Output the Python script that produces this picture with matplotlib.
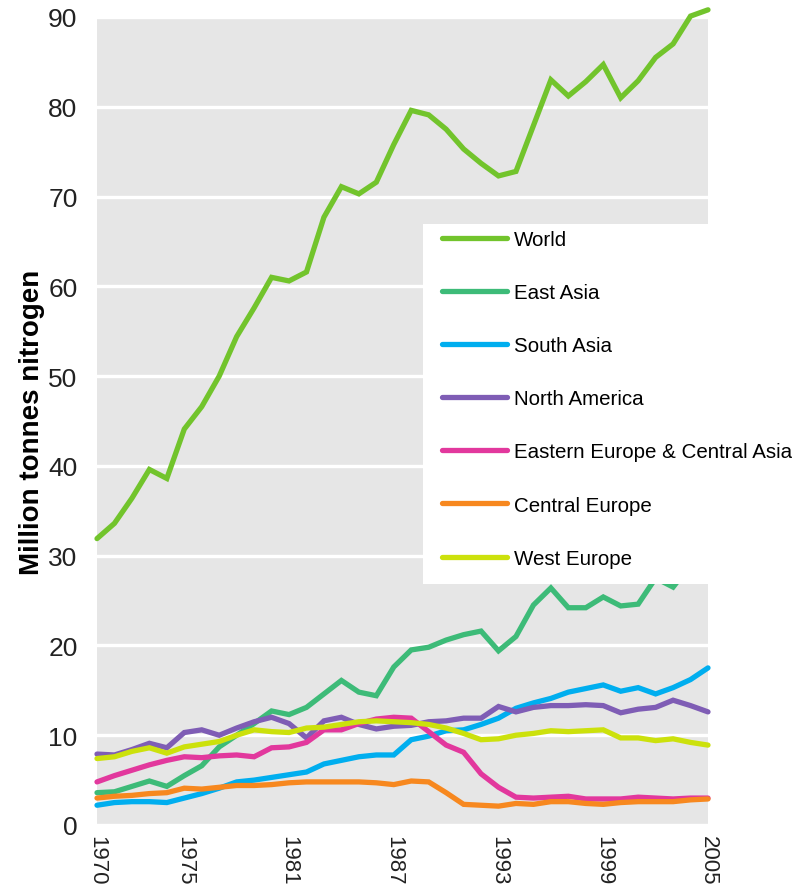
import matplotlib
matplotlib.use("Agg")
import matplotlib.pyplot as plt
from matplotlib.patches import Rectangle

years = list(range(1970, 2006))

world = [31.9, 33.6, 36.4, 39.6, 38.6, 44.1, 46.6, 50.0, 54.4, 57.6, 61.0, 60.6,
         61.6, 67.7, 71.1, 70.3, 71.6, 75.8, 79.6, 79.1, 77.5, 75.3, 73.7, 72.3,
         72.8, 77.9, 83.0, 81.2, 82.8, 84.7, 81.0, 82.9, 85.5, 87.0, 90.1, 90.8]
east_asia = [3.6, 3.7, 4.3, 4.9, 4.3, 5.5, 6.6, 8.7, 10.0, 11.3, 12.7, 12.3,
             13.1, 14.6, 16.1, 14.8, 14.4, 17.6, 19.5, 19.8, 20.6, 21.2, 21.6, 19.4,
             21.0, 24.5, 26.4, 24.2, 24.2, 25.4, 24.4, 24.6, 27.5, 26.5, 29.0, 30.5]
south_asia = [2.2, 2.5, 2.6, 2.6, 2.5, 3.0, 3.5, 4.1, 4.8, 5.0, 5.3, 5.6,
              5.9, 6.8, 7.2, 7.6, 7.8, 7.8, 9.5, 9.9, 10.5, 10.6, 11.2, 11.9,
              13.0, 13.6, 14.1, 14.8, 15.2, 15.6, 14.9, 15.3, 14.6, 15.3, 16.2, 17.5]
north_america = [7.9, 7.8, 8.4, 9.1, 8.6, 10.3, 10.6, 10.0, 10.8, 11.5, 12.0, 11.3,
                 9.7, 11.6, 12.0, 11.2, 10.7, 11.0, 11.1, 11.5, 11.6, 11.9, 11.9, 13.2,
                 12.6, 13.1, 13.3, 13.3, 13.4, 13.3, 12.5, 12.9, 13.1, 13.9, 13.3, 12.6]
east_europe_central_asia = [4.8, 5.5, 6.1, 6.7, 7.2, 7.6, 7.5, 7.7, 7.8, 7.6, 8.6, 8.7,
                            9.2, 10.6, 10.6, 11.3, 11.8, 12.0, 11.9, 10.4, 8.9, 8.1, 5.7, 4.2,
                            3.1, 3.0, 3.1, 3.2, 2.9, 2.9, 2.9, 3.1, 3.0, 2.9, 3.0, 3.0]
central_europe = [3.0, 3.2, 3.3, 3.5, 3.6, 4.1, 4.0, 4.2, 4.4, 4.4, 4.5, 4.7,
                  4.8, 4.8, 4.8, 4.8, 4.7, 4.5, 4.9, 4.8, 3.6, 2.3, 2.2, 2.1,
                  2.4, 2.3, 2.6, 2.6, 2.4, 2.3, 2.5, 2.6, 2.6, 2.6, 2.8, 2.9]
west_europe = [7.4, 7.6, 8.2, 8.6, 8.0, 8.7, 9.0, 9.3, 10.0, 10.6, 10.4, 10.3,
               10.8, 10.9, 11.2, 11.5, 11.6, 11.5, 11.4, 11.2, 10.8, 10.2, 9.5, 9.6,
               10.0, 10.2, 10.5, 10.4, 10.5, 10.6, 9.7, 9.7, 9.4, 9.6, 9.2, 8.9]

series_names = ["World", "East Asia", "South Asia", "North America",
                "Eastern Europe & Central Asia", "Central Europe", "West Europe"]
series_values = [world, east_asia, south_asia, north_america,
                 east_europe_central_asia, central_europe, west_europe]
series_colors = ["#72c42c", "#3dbb78", "#00aeef", "#7f5db5",
                 "#e2389d", "#f7881f", "#cce10c"]

x_ticks = [1970, 1975, 1981, 1987, 1993, 1999, 2005]
y_ticks = [0, 10, 20, 30, 40, 50, 60, 70, 80, 90]

plt.rcParams["font.family"] = ["Liberation Sans", "DejaVu Sans"]

W, H = 792, 887
fig = plt.figure(figsize=(W / 100, H / 100), dpi=100)
ax = fig.add_axes([97 / W, 1 - 826 / H, (708 - 97) / W, (826 - 18) / H])
ax.set_facecolor("#e6e6e6")

for name, vals, col in zip(series_names, series_values, series_colors):
    ax.plot(years, vals, color=col, lw=3.8, label=name,
            solid_capstyle="round", solid_joinstyle="miter", clip_on=False, zorder=3)

ax.set_xlim(1970, 2005)
ax.set_ylim(0, 90)
ax.set_yticks(y_ticks)
ax.set_xticks(x_ticks)
ax.set_xticklabels([str(t) for t in x_ticks], rotation=270, fontsize=16)
ax.tick_params(axis="y", length=0, pad=14, labelsize=19, labelcolor="#222222")
ax.tick_params(axis="x", length=0, pad=7, labelcolor="#222222")

ax.grid(axis="y", color="white", lw=2.4)
ax.set_axisbelow(True)
for s in ax.spines.values():
    s.set_visible(False)

fig.text(32 / W, 1 - 422 / H, "Million tonnes nitrogen", rotation=90,
         ha="center", va="center", fontsize=20, fontweight="bold")

# white box behind the legend
fig.patches.append(Rectangle((423 / W, 1 - 585 / H), (W - 423) / W, (585 - 225) / H,
                             transform=fig.transFigure, facecolor="white",
                             edgecolor="none", zorder=5))

leg = ax.legend(loc="upper left", bbox_to_anchor=(442 / W, 1 - 231 / H),
                bbox_transform=fig.transFigure, frameon=False,
                prop={"size": 14.8},
                handlelength=3.15, handletextpad=0.34, labelspacing=1.66,
                borderpad=0, borderaxespad=0)
for h in leg.get_lines():
    h.set_linewidth(3.8)
    h.set_solid_capstyle("round")
leg.set_zorder(10)
leg.remove()
fig.legends.append(leg)

fig.savefig("out.png", dpi=100)
